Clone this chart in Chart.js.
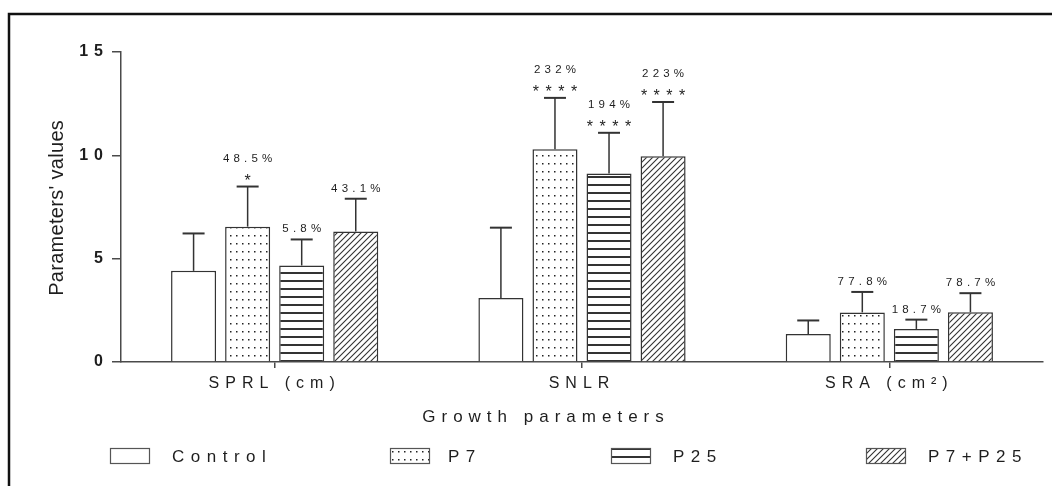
<!DOCTYPE html>
<html>
<head>
<meta charset="utf-8">
<script src="https://cdn.jsdelivr.net/npm/chart.js@4.4.1/dist/chart.umd.min.js"></script>
<style>
  html, body { margin: 0; padding: 0; background: #ffffff; }
  canvas { display: block; }
</style>
</head>
<body>
<canvas id="chart" width="1052" height="486"></canvas>
<script>
// ---- data ----
const categories = ['SPRL (cm)', 'SNLR', 'SRA (cm²)'];
const seriesNames = ['Control', 'P7', 'P25', 'P7+P25'];
const controlMean = [4.41, 3.10, 1.35];
const controlSD   = [1.81, 3.40, 0.66];
const p7Mean      = [6.55, 10.30, 2.40];
const p7SD        = [1.94, 2.48, 0.99];
const p25Mean     = [4.67, 9.12, 1.60];
const p25SD       = [1.26, 1.97, 0.45];
const comboMean   = [6.31, 9.95, 2.41];
const comboSD     = [1.59, 2.63, 0.92];
// increase over control and significance marks for each treatment
const p7Pct    = ['48.5%', '232%', '77.8%'];
const p25Pct   = ['5.8%', '194%', '18.7%'];
const comboPct = ['43.1%', '223%', '78.7%'];
const p7Sig    = ['*', '****', ''];
const p25Sig   = ['', '****', ''];
const comboSig = ['', '****', ''];
const yTicks = [0, 5, 10, 15];
const yTitle = "Parameters' values";
const xTitle = 'Growth parameters';

// ---- styles ----
const FONT = "'Liberation Sans', Arial, sans-serif";
const INK = '#333333';
const AXIS = '#4a4a4a';
const TEXT = '#1e1e1e';

const canvas = document.getElementById('chart');
const mainCtx = canvas.getContext('2d');

function makePattern(w, h, paint) {
  const c = document.createElement('canvas');
  c.width = w; c.height = h;
  const g = c.getContext('2d');
  g.fillStyle = '#ffffff';
  g.fillRect(0, 0, w, h);
  paint(g, w, h);
  return mainCtx.createPattern(c, 'repeat');
}
const fillPlain = '#ffffff';
const fillDots = makePattern(6, 8, g => {
  g.fillStyle = '#222222';
  g.fillRect(2, 3, 1.5, 1.5);
});
const fillLines = makePattern(8, 8, g => {
  g.fillStyle = INK;
  g.fillRect(0, 0, 8, 2);
});
const fillHatch = makePattern(6, 6, (g, w, h) => {
  g.strokeStyle = INK;
  g.lineWidth = 1.1;
  g.beginPath();
  g.moveTo(-1, h + 1); g.lineTo(w + 1, -1);
  g.moveTo(-1, 1); g.lineTo(1, -1);
  g.moveTo(w - 1, h + 1); g.lineTo(w + 1, h - 1);
  g.stroke();
});

// draws text with fixed extra spacing between characters
function spacedText(ctx, text, x, y, sp, align) {
  const chars = [...text];
  const widths = chars.map(ch => ctx.measureText(ch).width);
  const total = widths.reduce((a, b) => a + b, 0) + sp * (chars.length - 1);
  let cx = align === 'center' ? x - total / 2 : (align === 'right' ? x - total : x);
  ctx.textAlign = 'left';
  chars.forEach((ch, k) => { ctx.fillText(ch, cx, y); cx += widths[k] + sp; });
}

// ---- plugins ----
const tickSpacing = {
  id: 'tickSpacing',
  beforeDraw(chart) { chart.ctx.letterSpacing = '6px'; }
};

const errorBars = {
  id: 'errorBars',
  afterDatasetsDraw(chart) {
    const ctx = chart.ctx;
    const yScale = chart.scales.y;
    ctx.save();
    ctx.letterSpacing = '0px';
    chart.data.datasets.forEach((ds, di) => {
      const meta = chart.getDatasetMeta(di);
      meta.data.forEach((bar, i) => {
        const top = yScale.getPixelForValue(ds.data[i] + ds.sd[i]);
        ctx.strokeStyle = INK;
        ctx.lineWidth = 1.5;
        ctx.beginPath();
        ctx.moveTo(bar.x, bar.y);
        ctx.lineTo(bar.x, top);
        ctx.stroke();
        ctx.lineWidth = 2;
        ctx.beginPath();
        ctx.moveTo(bar.x - 11, top);
        ctx.lineTo(bar.x + 11, top);
        ctx.stroke();

        ctx.fillStyle = TEXT;
        ctx.textBaseline = 'alphabetic';
        const sig = ds.sig ? ds.sig[i] : '';
        const pct = ds.pct ? ds.pct[i] : '';
        if (sig) {
          ctx.font = '16px ' + FONT;
          spacedText(ctx, sig, bar.x, top - 1, 6.5, 'center');
        }
        if (pct) {
          ctx.font = '11.5px ' + FONT;
          spacedText(ctx, pct, bar.x, sig ? top - 25 : top - 7, 4.2, 'center');
        }
      });
    });
    ctx.restore();
  }
};

const decorations = {
  id: 'decorations',
  afterDraw(chart) {
    const ctx = chart.ctx;
    ctx.save();
    ctx.letterSpacing = '0px';

    // frame
    ctx.strokeStyle = '#111111';
    ctx.lineWidth = 2.5;
    ctx.beginPath();
    ctx.moveTo(9, 486);
    ctx.lineTo(9, 14);
    ctx.lineTo(1052, 14);
    ctx.stroke();

    ctx.fillStyle = TEXT;
    ctx.textBaseline = 'middle';

    // axis titles
    ctx.font = '17px ' + FONT;
    spacedText(ctx, xTitle, 543, 417, 6, 'center');

    ctx.save();
    ctx.translate(57, 208);
    ctx.rotate(-Math.PI / 2);
    ctx.font = '20px ' + FONT;
    spacedText(ctx, yTitle, 0, 0, 0.3, 'center');
    ctx.restore();

    // legend
    const boxX = [110, 390, 611, 866];
    const textX = [172, 448, 673, 928];
    chart.data.datasets.forEach((ds, di) => {
      ctx.fillStyle = ds.backgroundColor;
      ctx.fillRect(boxX[di], 448, 40, 16);
      ctx.strokeStyle = '#555555';
      ctx.lineWidth = 1.2;
      ctx.strokeRect(boxX[di] + 0.5, 448.5, 39, 15);
      ctx.fillStyle = TEXT;
      ctx.font = '17px ' + FONT;
      spacedText(ctx, ds.label, textX[di], 457, 6.5, 'left');
    });
    ctx.restore();
  }
};

// ---- chart ----
const datasets = [
  { label: seriesNames[0], data: controlMean, sd: controlSD, pct: null, sig: null, backgroundColor: fillPlain },
  { label: seriesNames[1], data: p7Mean, sd: p7SD, pct: p7Pct, sig: p7Sig, backgroundColor: fillDots },
  { label: seriesNames[2], data: p25Mean, sd: p25SD, pct: p25Pct, sig: p25Sig, backgroundColor: fillLines },
  { label: seriesNames[3], data: comboMean, sd: comboSD, pct: comboPct, sig: comboSig, backgroundColor: fillHatch }
];

new Chart(canvas, {
  type: 'bar',
  data: { labels: categories, datasets },
  options: {
    responsive: false,
    devicePixelRatio: 1,
    animation: false,
    layout: { padding: { top: 52, right: 9, bottom: 0, left: 0 } },
    plugins: { legend: { display: false }, tooltip: { enabled: false } },
    datasets: {
      bar: {
        barPercentage: 0.833,
        categoryPercentage: 0.7036,
        borderWidth: 1.5,
        borderColor: INK
      }
    },
    scales: {
      x: {
        grid: { display: true, drawOnChartArea: false, offset: false, tickLength: 6, color: AXIS, lineWidth: 1.5 },
        border: { color: AXIS, width: 1.5 },
        ticks: { font: { family: FONT, size: 16 }, color: TEXT, padding: 6, maxRotation: 0 },
        afterFit(s) { s.height = 124; }
      },
      y: {
        min: 0,
        max: 15,
        afterBuildTicks(s) { s.ticks = yTicks.map(v => ({ value: v })); },
        grid: { display: true, drawOnChartArea: false, tickLength: 9, color: AXIS, lineWidth: 1.5 },
        border: { color: AXIS, width: 1.5 },
        ticks: { font: { family: FONT, size: 16, weight: 'bold' }, color: TEXT, padding: 3 },
        afterFit(s) { s.width = 121; }
      }
    }
  },
  plugins: [tickSpacing, errorBars, decorations]
});
</script>
</body>
</html>
